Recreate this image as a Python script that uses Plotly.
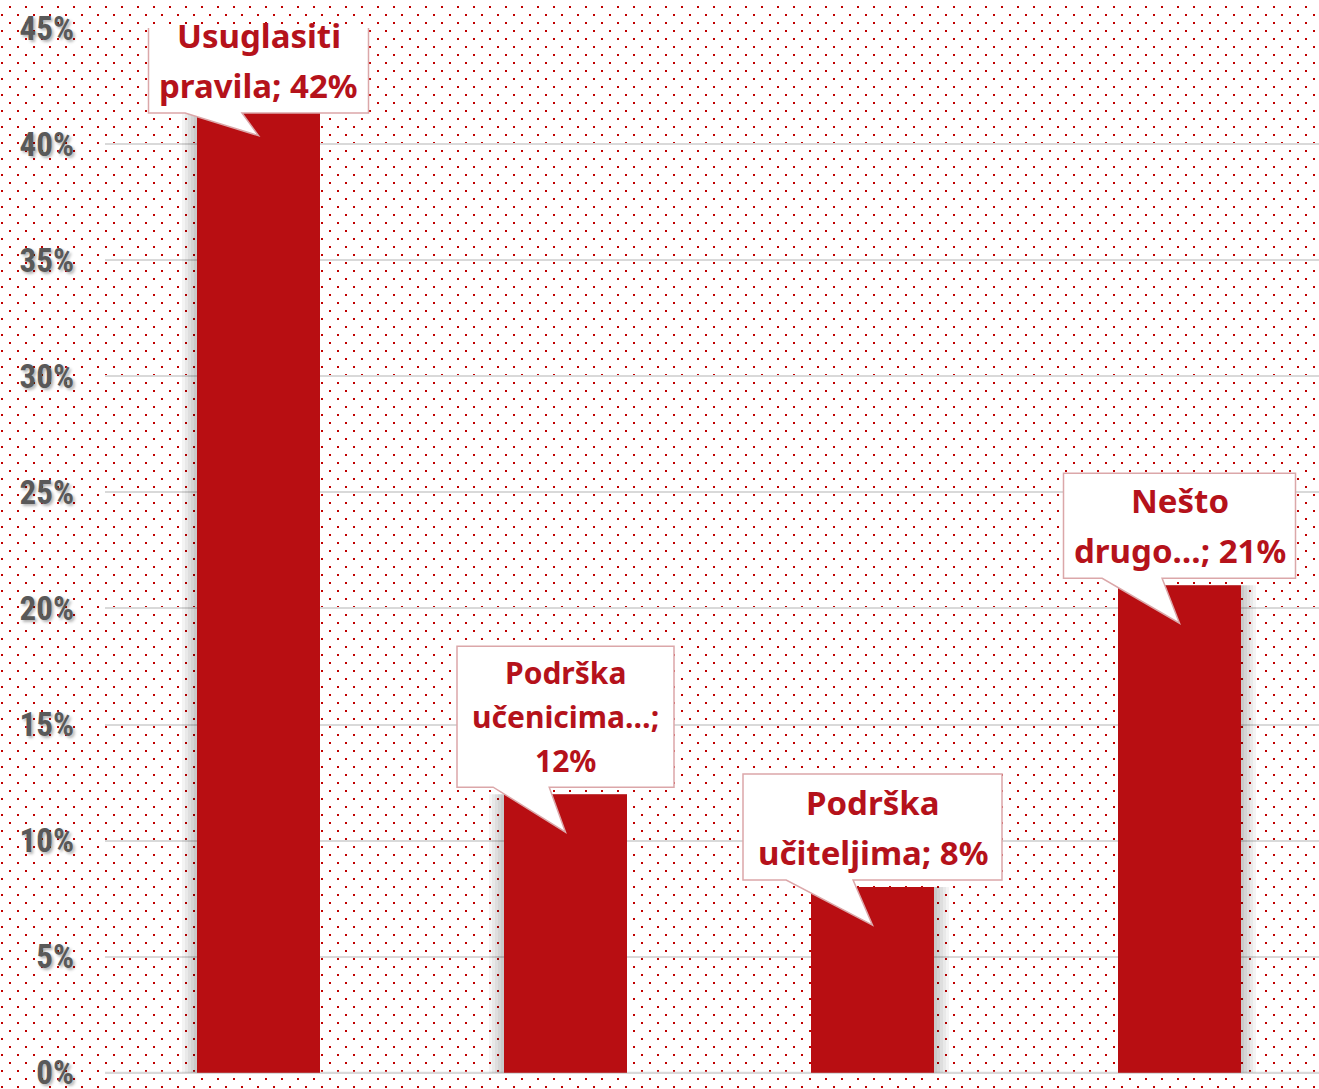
import base64
import plotly.graph_objects as go

# ---------------- data ----------------
categories = ["Usuglasiti pravila", "Podrška učenicima…", "Podrška učiteljima", "Nešto drugo…"]
values = [42, 12, 8, 21]
label_lines = [
    ["Usuglasiti", "pravila; {v}%"],
    ["Podrška", "učenicima…;", "{v}%"],
    ["Podrška", "učiteljima; {v}%"],
    ["Nešto", "drugo…; {v}%"],
]
y_tick_values = [0, 5, 10, 15, 20, 25, 30, 35, 40, 45]
y_tick_labels = [f"{t}%" for t in y_tick_values]

# ---------------- layout constants ----------------
W, H = 1319, 1089
ML, MR, MT, MB = 105, 0, 28, 15
PW = W - ML - MR
PH = H - MT - MB
CAT_PX = 307
Y_MIN, Y_MAX = -0.05, 45
x_range = [-0.5, -0.5 + PW / CAT_PX]
BAR_W = 123 / CAT_PX

BAR_COLOR = "#B80E12"
TEXT_COLOR = "#B5121B"
BORDER_COLOR = "#DBA7A9"
GRID_COLOR = "#D9D9D9"

# callout styles
box_w = [220, 217, 259, 232]
box_h = [105, 141, 106, 105]
line_gap = [50, 44, 50, 50]
font_size = [33, 30, 33, 33]
shadow_side = [-1, -1, 1, 1]


def px_to_x(px):
    return x_range[0] + (px - ML) / CAT_PX


def py_to_y(py):
    return Y_MIN + (MT + PH - py) / PH * (Y_MAX - Y_MIN)


def x_to_px(x):
    return ML + (x - x_range[0]) * CAT_PX


def y_to_py(y):
    return MT + PH - (y - Y_MIN) / (Y_MAX - Y_MIN) * PH


xs = list(range(len(categories)))

fig = go.Figure()

# soft shadows beside bars
for k in range(1, 6):
    ext = 3 * k / CAT_PX
    offs = [(-BAR_W / 2 - ext) if s < 0 else (-BAR_W / 2) for s in shadow_side]
    fig.add_trace(go.Bar(
        x=xs, y=values, width=[BAR_W + ext] * len(xs), offset=offs,
        marker=dict(color="rgba(0,0,0,0.045)", line=dict(width=0)),
        hoverinfo="skip", showlegend=False,
    ))

fig.add_trace(go.Bar(
    x=xs, y=values, width=BAR_W,
    marker=dict(color=BAR_COLOR, line=dict(width=0)),
    hovertext=categories, showlegend=False,
))

# baseline gridline (plotly drops the gridline at the very edge of the range)
shapes = [dict(type="line", xref="paper", yref="y", x0=0, x1=1, y0=0, y1=0,
               line=dict(color=GRID_COLOR, width=2), layer="below")]
annotations = []
for i, v in enumerate(values):
    cx = x_to_px(i)
    w, h = box_w[i], box_h[i]
    tip = y_to_py(v) + 38
    bottom = tip - 45
    top = bottom - h
    if top < 8:
        top = 8
        bottom = top + h
    left, right = cx - w / 2, cx + w / 2
    tl, tr = cx - w / 3, cx - 0.075 * w
    pts = [(left, top), (right, top), (right, bottom), (tr, bottom), (cx, tip), (tl, bottom), (left, bottom)]
    path = "M " + " L ".join(f"{px_to_x(a):.5f},{py_to_y(b):.5f}" for a, b in pts) + " Z"
    shapes.append(dict(type="path", path=path, xref="x", yref="y",
                       fillcolor="white", line=dict(color=BORDER_COLOR, width=1.5), layer="above"))
    lines = [t.format(v=v) for t in label_lines[i]]
    n = len(lines)
    cy = (top + bottom) / 2
    for j, t in enumerate(lines):
        ly = cy + (j - (n - 1) / 2) * line_gap[i]
        annotations.append(dict(
            x=i, y=py_to_y(ly), xref="x", yref="y", text=t, showarrow=False,
            xanchor="center", yanchor="middle",
            font=dict(family="Noto Sans, Open Sans, sans-serif", size=font_size[i],
                      color=TEXT_COLOR, weight="bold"),
        ))

# dotted background pattern
svg = (
    f'<svg xmlns="http://www.w3.org/2000/svg" width="{W}" height="{H}" viewBox="0 0 {W} {H}">'
    '<defs><pattern id="d" width="16" height="16" patternUnits="userSpaceOnUse">'
    '<rect x="9" y="6" width="2" height="2" fill="#C00000"/>'
    '<rect x="1" y="14" width="2" height="2" fill="#C00000"/>'
    '</pattern></defs>'
    f'<rect width="{W}" height="{H}" fill="url(#d)"/></svg>'
)
src = "data:image/svg+xml;base64," + base64.b64encode(svg.encode()).decode()

fig.update_layout(
    width=W, height=H,
    margin=dict(l=ML, r=MR, t=MT, b=MB, pad=0, autoexpand=False),
    paper_bgcolor="white", plot_bgcolor="rgba(0,0,0,0)",
    barmode="overlay",
    showlegend=False,
    shapes=shapes,
    annotations=annotations,
    images=[dict(source=src, xref="paper", yref="paper",
                 x=-ML / PW, y=1 + MT / PH, sizex=W / PW, sizey=H / PH,
                 xanchor="left", yanchor="top", sizing="stretch", layer="below")],
    xaxis=dict(range=x_range, showgrid=False, zeroline=False, showticklabels=False,
               showline=False, fixedrange=True, automargin=False),
    yaxis=dict(range=[Y_MIN, Y_MAX], tickvals=y_tick_values, ticktext=y_tick_labels,
               showgrid=True, gridcolor=GRID_COLOR, gridwidth=2, zeroline=False,
               showline=False, ticks="", ticklabelstandoff=30, ticklabeloverflow="allow",
               automargin=False,
               tickfont=dict(family="Roboto Condensed, Noto Sans Condensed, Liberation Sans Narrow, DejaVu Sans Condensed, sans-serif",
                             size=33, color="#595959", weight="bold",
                             shadow="2px 2px 3px rgba(0,0,0,0.3)")),
)

fig.write_html("out.html", config={"displayModeBar": False},
               post_script="document.body.style.margin='0px';")
